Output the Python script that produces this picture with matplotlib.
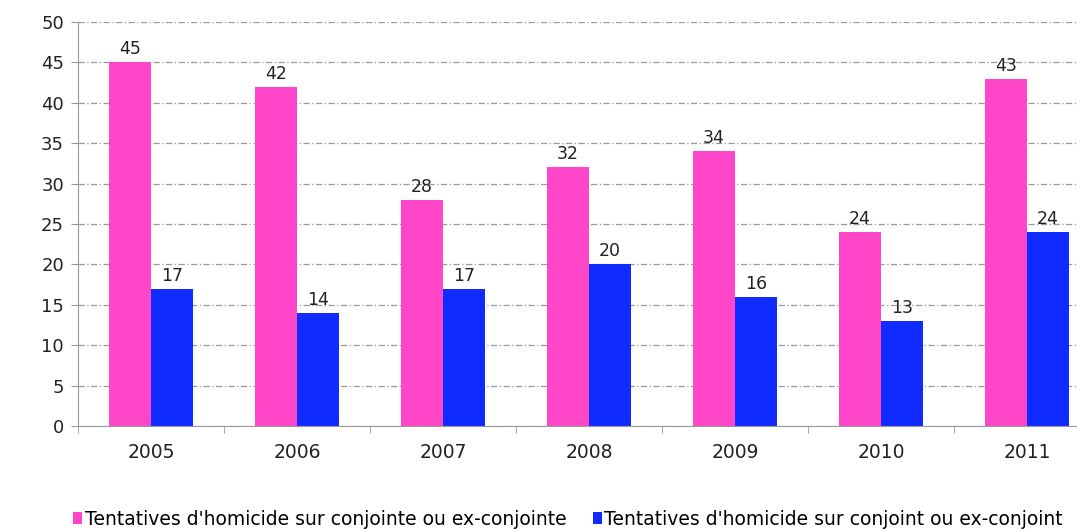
import matplotlib.pyplot as plt
import numpy as np

# data
years = ["2005", "2006", "2007", "2008", "2009", "2010", "2011"]
femmes = [45, 42, 28, 32, 34, 24, 43]
hommes = [17, 14, 17, 20, 16, 13, 24]
labels = ["Tentatives d'homicide sur conjointe ou ex-conjointe",
          "Tentatives d'homicide sur conjoint ou ex-conjoint"]

pink = "#FF46C8"
blue = "#0F2BFF"

fig = plt.figure(figsize=(10.77, 5.32), dpi=100)
ax = fig.add_axes([78 / 1077, 106 / 532, 1022 / 1077, 404 / 532])

x = np.arange(len(years))
w = 0.288
b1 = ax.bar(x - w / 2, femmes, w, color=pink, label=labels[0])
b2 = ax.bar(x + w / 2, hommes, w, color=blue, label=labels[1])

for bars in (b1, b2):
    for rect in bars:
        h = rect.get_height()
        ax.text(rect.get_x() + rect.get_width() / 2, h + 0.5, str(int(h)),
                ha="center", va="bottom", fontsize=12.5, color="#222222")

ax.set_ylim(0, 50)
ax.set_xlim(-0.5, len(years) - 0.5)
ax.set_yticks(range(0, 51, 5))
ax.set_xticks(x)
ax.set_xticklabels(years)
ax.set_xticks(np.arange(-0.5, len(years), 1), minor=True)
ax.tick_params(axis="x", which="major", length=0, pad=12, labelsize=13.5, colors="#222222")
ax.tick_params(axis="x", which="minor", length=5, color="#999999", direction="out")
ax.tick_params(axis="y", length=5, color="#999999", labelsize=13, pad=5)
for lab in ax.get_yticklabels():
    lab.set_color("#222222")

ax.yaxis.grid(True, linestyle=(0, (5, 2, 1, 2)), color="#999999", linewidth=0.9)
ax.set_axisbelow(True)
for s in ["top", "right"]:
    ax.spines[s].set_visible(False)
ax.spines["left"].set_color("#999999")
ax.spines["bottom"].set_color("#999999")

# legend at the bottom
fig.legend(handles=[b1, b2], labels=labels, loc="lower left",
           bbox_to_anchor=(73 / 1077, 3 / 532), ncol=2, frameon=False,
           borderpad=0, borderaxespad=0,
           handlelength=0.48, handleheight=0.6, handletextpad=0.15,
           columnspacing=1.4,
           prop={"family": "DejaVu Sans", "size": 13.5})

fig.savefig("out.png", dpi=100)
